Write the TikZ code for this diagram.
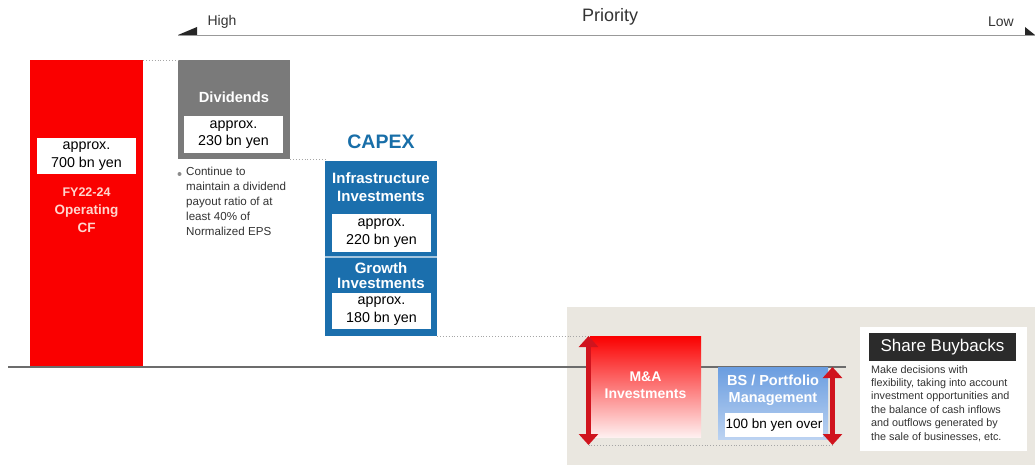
\documentclass[tikz,border=0pt]{standalone}
\usepackage{fontspec}
\setmainfont{Liberation Sans}
\usetikzlibrary{arrows.meta}
\definecolor{redc}{RGB}{250,0,0}
\definecolor{greyc}{RGB}{122,122,122}
\definecolor{bluec}{RGB}{27,111,173}
\definecolor{capexc}{RGB}{24,110,168}
\definecolor{bslue}{RGB}{106,157,224}
\definecolor{beige}{RGB}{234,231,224}
\definecolor{arrowc}{RGB}{208,20,30}
\definecolor{fyc}{RGB}{255,214,206}
\definecolor{darkc}{RGB}{43,43,43}
\definecolor{textc}{RGB}{51,51,51}
\tikzset{
  box/.style={anchor=north west, inner sep=0pt, outer sep=0pt, minimum width=#1},
  valbox/.style={box=99pt, fill=white, align=center, font=\fontsize{14.3}{17.5}\selectfont, text=black},
  boldw/.style={text=white, font=\bfseries\fontsize{15}{18}\selectfont, align=center, inner sep=0pt},
  dotline/.style={gray!70, dotted, line width=0.9pt},
  redarrow/.style={arrowc, line width=4.2pt, {Triangle[width=19pt,length=11pt]}-{Triangle[width=19pt,length=11pt]}},
}
\begin{document}
\begin{tikzpicture}[x=1pt,y=-1pt]
\useasboundingbox (0,0) rectangle (1035,465);
% background panel
\node[box=468pt, minimum height=158pt, fill=beige] (panel) at (567,307) {};
% baseline
\coordinate (hlL) at (8,367);
\coordinate (hlR) at (846,367);
\draw[gray!85!black, line width=1.3pt] (hlL) -- (hlR);
% priority axis
\coordinate (pl) at (178,35);
\coordinate (pr) at (1035,35);
\draw[gray!80, line width=0.9pt] (pl) -- (pr);
\fill[black!85] (178,35) -- (197,27) -- (197,35) -- cycle;
\fill[black!85] (1025,27) -- (1025,35) -- (1035,35) -- cycle;
\node[font=\fontsize{14}{16}\selectfont, text=textc] (high) at (222,22) {High};
\node[font=\fontsize{18}{20}\selectfont, text=textc] (prio) at (610,17) {Priority};
\node[font=\fontsize{14}{16}\selectfont, text=textc] (low) at (1001,22) {Low};
% operating CF
\node[box=113pt, minimum height=306pt, fill=redc] (red) at (30,60) {};
\node[valbox, minimum height=36pt] (redval) at (37,138) {approx.\\700 bn yen};
\node[text=fyc, font=\bfseries\fontsize{13.5}{18}\selectfont, align=center, inner sep=0pt] (redlbl) at (86.5,210) {{\fontsize{12.5}{18}\selectfont FY22-24}\\Operating\\CF};
% dividends
\node[box=112pt, minimum height=99pt, fill=greyc] (div) at (178,60) {};
\node[boldw, font=\bfseries\fontsize{14.7}{18}\selectfont] (divt) at (234,97) {Dividends};
\node[valbox, minimum height=37pt] (divval) at (184,116) {approx.\\230 bn yen};
\draw[dotline] (red.north east) -- (div.north west);
\node[circle, fill=gray!90, inner sep=0pt, minimum size=4pt] (bul) at (179.5,174) {};
\node[anchor=north west, inner sep=0pt, align=left, text=textc, font=\fontsize{11.6}{15}\selectfont] (divnote) at (186,167) {Continue to\\maintain a dividend\\payout ratio of at\\least 40\% of\\Normalized EPS};
% capex
\node[text=capexc, font=\bfseries\fontsize{19.5}{22}\selectfont, inner sep=0pt] (capex) at (381,142) {CAPEX};
\node[box=112pt, minimum height=96pt, fill=bluec] (inf) at (325,161) {};
\node[box=112pt, minimum height=79pt, fill=bluec] (gro) at (325,257) {};
\draw[white!60!bluec, line width=1.2pt] (inf.south west) -- (inf.south east);
\draw[dotline] (div.south east) -- (div.south east -| inf.west);
\node[boldw] (inft) at (381,187) {Infrastructure\\Investments};
\node[valbox, minimum height=38pt] (infval) at (332,214) {approx.\\220 bn yen};
\node[boldw, font=\bfseries\fontsize{15}{15}\selectfont] (grot) at (381,275.5) {Growth\\Investments};
\node[valbox, minimum height=36pt] (groval) at (332,293) {approx.\\180 bn yen};
% M&A
\node[box=111pt, minimum height=101pt, top color=redc, middle color=redc!88!white, bottom color=redc!6!white] (ma) at (590,336) {};
\node[boldw, font=\bfseries\fontsize{14}{17}\selectfont] (mat) at (645.5,385.5) {M\&A\\Investments};
\draw[dotline] (gro.south east) -- (ma.north west);
\coordinate (maT) at (588.5,336);
\coordinate (maB) at (588.5,445);
% BS
\node[box=110pt, minimum height=72pt, top color=bslue, middle color=bslue, bottom color=bslue!45!white] (bs) at (718,367) {};
\node[boldw, font=\bfseries\fontsize{14.5}{17}\selectfont] (bst) at (773,390.5) {BS / Portfolio\\Management};
\node[box=98pt, minimum height=24pt, fill=white, font=\fontsize{13.5}{16}\selectfont] (bsval) at (725,413) {100 bn yen over};
\coordinate (bsT) at (832.5,367);
\coordinate (bsB) at (832.5,445);
\draw[dotline] (maB) -- (bsB);
\draw[redarrow] (maT) -- (maB);
\draw[redarrow] (bsT) -- (bsB);
% share buybacks
\node[box=167pt, minimum height=124pt, fill=white] (sb) at (860,327) {};
\node[box=147pt, minimum height=28pt, fill=darkc, text=white, font=\fontsize{17}{20}\selectfont] (sbh) at (869,333) {Share Buybacks};
\node[anchor=north west, inner sep=0pt, align=left, text=textc, font=\fontsize{10.8}{13.4}\selectfont] (sbt) at (871,365) {Make decisions with\\flexibility, taking into account\\investment opportunities and\\the balance of cash inflows\\and outflows generated by\\the sale of businesses, etc.};
\end{tikzpicture}
\end{document}
